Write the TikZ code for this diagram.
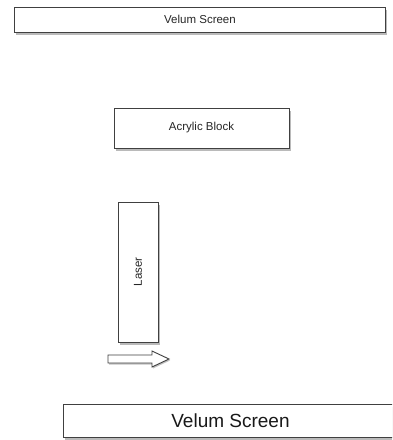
\documentclass[tikz,border=0pt]{standalone}
\usepackage{fontspec}
\setmainfont{Liberation Sans}
\usetikzlibrary{shadows}
\begin{document}
\begin{tikzpicture}[x=1pt,y=-1pt,
  boxstyle/.style={draw=black!75,line width=0.9pt,fill=white,
    drop shadow={shadow xshift=1.5pt,shadow yshift=-2.5pt,opacity=0.45,fill=black!60}},
  lbl/.style={font=\fontsize{11.5}{13}\selectfont,text=black!85}]
\useasboundingbox[fill=white] (0,0) rectangle (392,440);
\begin{scope}
\clip (0,0) rectangle (392,440);
\node[boxstyle,minimum width=371pt,minimum height=25pt,inner sep=0pt] (top) at (200,19.5) {};
\node[lbl] (toplbl) at (top.center) {Velum Screen};
\node[boxstyle,minimum width=175pt,minimum height=40pt,inner sep=0pt] (acryl) at (201.5,128) {};
\node[lbl] (acryllbl) at (acryl.center) {Acrylic Block};
\node[boxstyle,minimum width=40pt,minimum height=140pt,inner sep=0pt] (laser) at (138,272) {};
\node[lbl,rotate=90] (laserlbl) at (laser.center) {Laser};
\node[boxstyle,minimum width=335pt,minimum height=33pt,inner sep=0pt] (bot) at (230.5,420.5) {};
\node[font=\fontsize{19}{22}\selectfont,text=black!90] (botlbl) at (bot.center) {Velum Screen};
\coordinate (arr) at (108,355);
\draw[draw=black!75,line width=0.9pt,fill=white,
  drop shadow={shadow xshift=1pt,shadow yshift=-1.5pt,opacity=0.4,fill=black!60}]
  (arr) -- ++(44,0) -- ++(0,-4) -- ++(17,8) -- ++(-17,8) -- ++(0,-4) -- ++(-44,0) -- cycle;
\end{scope}
\end{tikzpicture}
\end{document}
